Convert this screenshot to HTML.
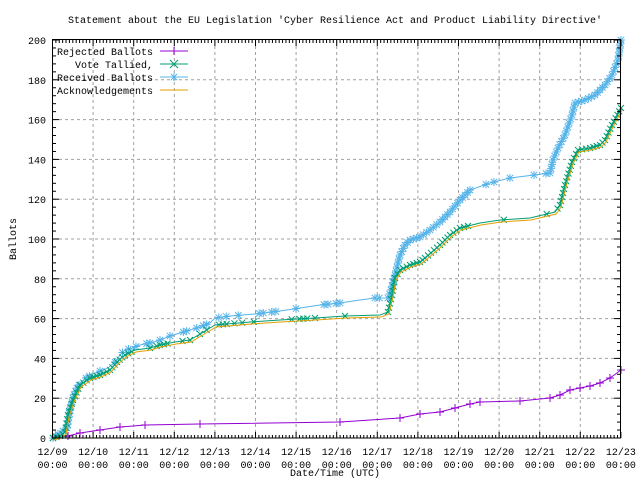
<!DOCTYPE html>
<html><head><meta charset="utf-8"><style>
html,body{margin:0;padding:0;background:#fff;}
svg{display:block;font-family:"Liberation Mono","DejaVu Sans Mono",monospace;font-size:10px;}
</style></head><body>
<svg id="s" width="640" height="480" xmlns="http://www.w3.org/2000/svg">
<rect width="640" height="480" fill="#fff"/>
<g id="grid" stroke="#a0a0a0" stroke-dasharray="3,3" stroke-width="1"></g>
<g id="series"></g>
<rect x="52.5" y="39.5" width="568" height="398.5" fill="none" stroke="#000"/>
<g id="ticks" stroke="#000"></g>
<g id="labels" fill="#000"></g>
<text x="335" y="23" text-anchor="middle">Statement about the EU Legislation 'Cyber Resilience Act and Product Liability Directive'</text>
<text x="16" y="239" text-anchor="middle" transform="rotate(-90 16 239)">Ballots</text>
<text x="335" y="476" text-anchor="middle">Date/Time (UTC)</text>
<g id="legend"></g>
</svg>
<script>
const NS="http://www.w3.org/2000/svg";
function el(p,t,a,txt){const e=document.createElementNS(NS,t);for(const k in a)e.setAttribute(k,a[k]);if(txt!==undefined)e.textContent=txt;p.appendChild(e);return e;}
const g=document.getElementById('grid'),tk=document.getElementById('ticks'),lb=document.getElementById('labels');
const X0=52.5,DX=40.6,Y0=438,DY=1.99;
const days=['12/09','12/10','12/11','12/12','12/13','12/14','12/15','12/16','12/17','12/18','12/19','12/20','12/21','12/22','12/23'];
for(let i=0;i<15;i++){const x=X0+i*DX;
 if(i>0&&i<14)el(g,'line',{x1:x,y1:40,x2:x,y2:438});
 el(tk,'line',{x1:x,y1:438,x2:x,y2:432});el(tk,'line',{x1:x,y1:40,x2:x,y2:46});
 el(lb,'text',{x:x,y:455,'text-anchor':'middle'},days[i]);
 el(lb,'text',{x:x,y:468,'text-anchor':'middle'},'00:00');
 if(i<14)for(let j=1;j<12;j++){const xx=x+j*DX/12;el(tk,'line',{x1:xx,y1:438,x2:xx,y2:435});el(tk,'line',{x1:xx,y1:40,x2:xx,y2:43});}
}
for(let v=0;v<=200;v+=20){const y=Y0-v*DY;
 if(v>0&&v<200)el(g,'line',{x1:53,y1:y,x2:620,y2:y});
 el(tk,'line',{x1:53,y1:y,x2:59,y2:y});el(tk,'line',{x1:620,y1:y,x2:614,y2:y});
 el(lb,'text',{x:46,y:y+4,'text-anchor':'end'},String(v));
 if(v<200)for(let j=1;j<5;j++){const yy=y-j*4*DY;el(tk,'line',{x1:53,y1:yy,x2:56,y2:yy});el(tk,'line',{x1:620,y1:yy,x2:617,y2:yy});}
}
const blue=[[53,438],[58,434],[63,431],[67,428],[70,410],[73,398],[77,388],[81,382],[86,378],[93,374],[100,371],[108,368],[115,362],[120,355],[125,350],[132,348],[140,345],[150,343],[160,340],[170,336],[180,333],[190,330],[200,327],[210,323],[215,318],[230,316],[255,314],[280,311],[300,308],[320,305],[340,303],[360,300],[375,298],[388,298],[391,290],[395,275],[400,255],[405,245],[410,240],[420,237],[430,230],[440,222],[450,212],[460,200],[470,190],[490,183],[510,178],[550,173],[553,160],[558,148],[565,135],[572,115],[575,103],[585,100],[595,95],[605,85],[612,75],[618,60],[621,40]];
const green=[[53,438],[60,436],[65,432],[68,415],[73,400],[80,385],[90,378],[100,375],[110,370],[117,362],[125,355],[135,350],[150,348],[160,345],[175,342],[190,340],[210,328],[215,325],[250,322],[280,320],[315,318],[345,316],[380,315],[388,312],[392,295],[395,278],[400,270],[410,265],[420,262],[425,258],[440,245],[450,235],[460,228],[480,223],[500,220],[530,218],[555,212],[560,205],[565,185],[572,162],[578,150],[590,148],[600,145],[605,140],[612,125],[621,108]];
const orange=green.map(p=>[p[0]+1,p[1]+2]);
const purple=[[53,438],[68,436],[80,433],[100,430],[120,427],[145,425],[200,424],[340,422],[400,418],[420,414],[440,412],[455,408],[470,404],[480,402],[520,401],[550,398],[560,395],[570,390],[580,388],[590,386],[600,383],[610,378],[621,370]];
const S=document.getElementById('series');
function dens(pts){const out=[];for(let i=0;i<pts.length-1;i++){const [a,b]=pts[i],[c,d]=pts[i+1];const n=Math.max(1,Math.round(Math.hypot(c-a,d-b)/4));for(let k=0;k<n;k++)out.push([a+(c-a)*k/n,b+(d-b)*k/n]);}out.push(pts[pts.length-1]);return out;}
function plus(p,x,y,c,r){el(p,'path',{d:`M${x-r},${y}h${2*r}M${x},${y-r}v${2*r}`,stroke:c,fill:'none'});}
function cross(p,x,y,c,r){el(p,'path',{d:`M${x-r},${y-r}l${2*r},${2*r}M${x-r},${y+r}l${2*r},${-2*r}`,stroke:c,fill:'none'});}
function star(p,x,y,c,r){plus(p,x,y,c,r);cross(p,x,y,c,r*0.8);}
function line(pts,c){el(S,'polyline',{points:pts.map(p=>p.join(',')).join(' '),fill:'none',stroke:c,'stroke-width':1});}
let seed=7;function rnd(){seed=(seed*9301+49297)%233280;return seed/233280;}
line(purple,'#9400d3');
purple.filter((p,i)=>i>0).forEach(p=>plus(S,p[0],p[1],'#9400d3',4));
line(blue,'#56b4e9');
dens(blue).filter(p=>p[0]<80||(p[0]>385&&p[0]<470)||p[0]>550||rnd()<0.35).forEach(p=>star(S,p[0],p[1],'#56b4e9',4));
line(green,'#009e73');
dens(green).filter(p=>p[0]<130||(p[0]>385&&p[0]<470)||p[0]>555||rnd()<0.25).forEach(p=>cross(S,p[0],p[1],'#009e73',3));
line(orange,'#e69f00');
const L=document.getElementById('legend');
const items=[['Rejected Ballots','#9400d3',plus,51],['Vote Tallied,','#009e73',cross,64],['Received Ballots','#56b4e9',star,77],['Acknowledgements','#e69f00',null,90]];
items.forEach(([t,c,m,y])=>{el(L,'text',{x:153,y:y+4,'text-anchor':'end'},t);el(L,'line',{x1:160,y1:y,x2:188,y2:y,stroke:c});if(m)m(L,174,y,c,4);});
</script>
</body></html>
